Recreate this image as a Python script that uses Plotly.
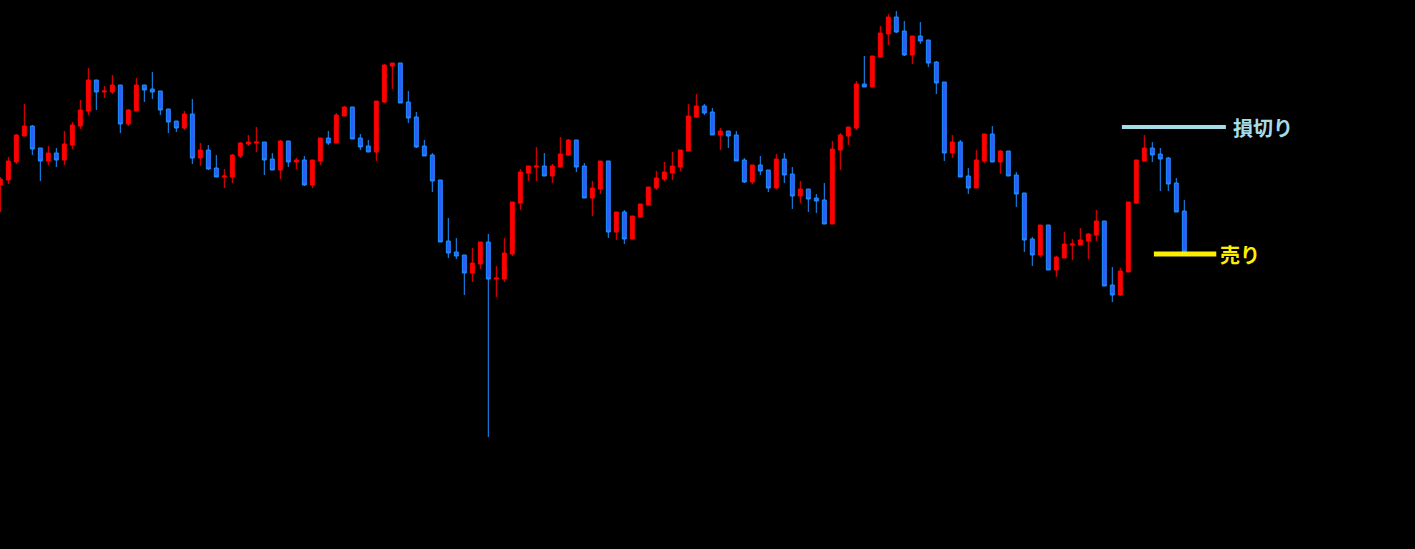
import plotly.graph_objects as go

idx = list(range(149))

opens = [148.15,148.20,148.38,148.64,148.74,148.52,148.39,148.47,148.40,148.55,
         148.74,148.89,149.20,149.08,149.08,149.15,148.76,148.89,149.15,149.11,
         149.09,148.91,148.79,148.72,148.86,148.42,148.50,148.32,148.23,148.23,
         148.44,148.56,148.57,148.58,148.41,148.30,148.59,148.38,148.40,148.15,
         148.39,148.62,148.57,148.84,148.93,148.62,148.54,148.48,148.98,149.34,
         149.37,148.98,148.83,148.54,148.45,148.20,147.59,147.48,147.45,147.27,
         147.36,147.58,147.21,147.21,147.46,147.97,148.27,148.33,148.34,148.24,
         148.33,148.45,148.60,148.34,148.02,148.11,148.39,147.68,147.88,147.61,
         147.83,147.95,148.12,148.21,148.27,148.33,148.49,148.83,148.94,148.88,
         148.65,148.69,148.65,148.40,148.18,148.35,148.30,148.12,148.41,148.26,
         148.04,148.11,148.02,148.00,147.76,148.50,148.64,148.72,149.16,149.13,
         149.43,149.66,149.83,149.69,149.45,149.64,149.60,149.38,149.18,148.47,
         148.58,148.24,148.12,148.39,148.66,148.38,148.49,148.25,148.07,147.61,
         147.45,147.75,147.30,147.42,147.55,147.55,147.59,147.65,147.79,147.15,
         147.05,147.28,147.97,148.39,148.52,148.46,148.42,148.17,147.89]

highs = [148.23,148.43,148.66,148.96,148.75,148.52,148.54,148.52,148.69,148.78,
         149.00,149.32,149.20,149.14,149.25,149.15,148.91,149.22,149.15,149.28,
         149.09,148.91,148.79,148.89,149.01,148.57,148.55,148.45,148.31,148.46,
         148.58,148.65,148.73,148.58,148.47,148.60,148.59,148.42,148.44,148.40,
         148.62,148.69,148.87,148.94,148.93,148.66,148.60,148.99,149.36,149.37,
         149.37,149.09,148.88,148.60,148.47,148.20,147.82,147.62,147.45,147.52,
         147.58,147.66,147.34,147.62,147.98,148.31,148.34,148.53,148.47,148.36,
         148.63,148.61,148.60,148.37,148.19,148.39,148.39,147.88,147.90,147.84,
         147.96,148.13,148.29,148.38,148.48,148.50,148.96,149.06,148.96,148.92,
         148.72,148.69,148.69,148.42,148.35,148.44,148.30,148.46,148.47,148.33,
         148.19,148.11,148.06,148.17,148.59,148.67,148.73,149.19,149.44,149.44,
         149.74,149.86,149.89,149.79,149.64,149.78,149.60,149.39,149.18,148.65,
         148.60,148.32,148.50,148.66,148.74,148.50,148.49,148.28,148.07,147.63,
         147.75,147.75,147.44,147.68,147.61,147.72,147.67,147.90,147.79,147.33,
         147.32,147.98,148.40,148.65,148.58,148.52,148.43,148.22,148.00]

lows = [147.88,148.16,148.36,148.64,148.45,148.19,148.35,148.33,148.35,148.51,
        148.71,148.85,148.90,149.02,149.06,148.67,148.74,148.89,148.98,149.01,
        148.85,148.67,148.68,148.70,148.36,148.34,148.30,148.23,148.12,148.17,
        148.42,148.54,148.48,148.25,148.30,148.21,148.33,148.31,148.14,148.12,
        148.35,148.55,148.57,148.84,148.61,148.50,148.48,148.39,148.97,149.11,
        148.97,148.77,148.52,148.44,148.08,147.58,147.42,147.41,147.05,147.18,
        147.31,145.63,147.03,147.18,147.44,147.90,148.19,148.19,148.24,148.17,
        148.33,148.44,148.28,148.02,147.84,148.06,147.62,147.60,147.56,147.61,
        147.83,147.95,148.10,148.19,148.20,148.29,148.49,148.82,148.85,148.65,
        148.50,148.52,148.39,148.17,148.16,148.25,148.08,148.11,148.17,147.91,
        147.97,147.88,147.87,147.76,147.76,148.30,148.55,148.70,149.13,149.13,
        149.43,149.55,149.67,149.44,149.36,149.56,149.33,149.06,148.39,148.42,
        148.23,148.06,148.12,148.37,148.38,148.26,148.24,147.93,147.48,147.34,
        147.43,147.30,147.23,147.42,147.40,147.55,147.41,147.59,147.14,146.98,
        147.04,147.28,147.96,148.39,148.38,148.09,148.09,147.88,147.48]

closes = [148.21,148.39,148.65,148.74,148.51,148.39,148.47,148.40,148.56,148.75,
          148.90,149.20,149.08,149.09,149.15,148.76,148.90,149.15,149.10,149.08,
          148.90,148.78,148.72,148.86,148.42,148.50,148.31,148.23,148.24,148.45,
          148.57,148.58,148.58,148.40,148.30,148.59,148.38,148.40,148.15,148.40,
          148.62,148.57,148.85,148.93,148.61,148.53,148.48,148.99,149.35,149.37,
          148.97,148.82,148.53,148.44,148.19,147.58,147.47,147.44,147.27,147.37,
          147.58,147.21,147.22,147.47,147.98,148.28,148.34,148.34,148.24,148.34,
          148.46,148.60,148.33,148.02,148.12,148.39,147.68,147.88,147.61,147.84,
          147.96,148.13,148.22,148.28,148.34,148.50,148.84,148.94,148.87,148.65,
          148.69,148.64,148.39,148.18,148.35,148.29,148.12,148.41,148.25,148.04,
          148.11,148.01,147.99,147.76,148.51,148.65,148.73,149.16,149.13,149.44,
          149.67,149.83,149.68,149.45,149.64,149.59,149.37,149.17,148.47,148.58,
          148.23,148.12,148.40,148.66,148.38,148.49,148.24,148.06,147.60,147.45,
          147.75,147.30,147.43,147.56,147.56,147.60,147.66,147.79,147.14,147.05,
          147.29,147.98,148.40,148.52,148.45,148.41,148.16,147.88,147.48]

stop_price = 148.73
stop_x = [140.2, 153.2]
stop_label = "損切り"
sell_price = 147.46
sell_x = [144.2, 152.0]
sell_label = "売り"

fig = go.Figure()
fig.add_trace(go.Candlestick(
    x=idx, open=opens, high=highs, low=lows, close=closes,
    increasing=dict(line=dict(color="#ff0000", width=1), fillcolor="#ff0000"),
    decreasing=dict(line=dict(color="#1e90ff", width=1), fillcolor="#2d5bff"),
    whiskerwidth=0, showlegend=False, hoverinfo="skip",
))
fig.add_trace(go.Scatter(x=stop_x, y=[stop_price]*2, mode="lines",
                         line=dict(color="#a6dbe8", width=4), showlegend=False, hoverinfo="skip"))
fig.add_trace(go.Scatter(x=sell_x, y=[sell_price]*2, mode="lines",
                         line=dict(color="#ffee00", width=5), showlegend=False, hoverinfo="skip"))

fig.add_annotation(x=153.85, y=stop_price, text="<b>" + stop_label + "</b>", showarrow=False,
                   xanchor="left", yanchor="middle",
                   font=dict(family="Noto Sans CJK JP", size=20, color="#a6dbe8"))
fig.add_annotation(x=152.2, y=sell_price, text="<b>" + sell_label + "</b>", showarrow=False,
                   xanchor="left", yanchor="middle",
                   font=dict(family="Noto Sans CJK JP", size=20, color="#ffee00"))

fig.update_layout(
    width=1415, height=549,
    margin=dict(l=0, r=0, t=0, b=0),
    paper_bgcolor="#000000", plot_bgcolor="#000000",
    xaxis=dict(range=[-0.04, 176.84], visible=False, showgrid=False,
               rangeslider=dict(visible=False), fixedrange=True),
    yaxis=dict(range=[144.51, 150.0], visible=False, showgrid=False, fixedrange=True),
    showlegend=False,
)
fig.write_html("out.html", config={"displayModeBar": False},
               post_script="document.body.style.margin='0';document.body.style.padding='0';"
                           "document.body.style.background='#000';"
                           "document.documentElement.style.background='#000';")
